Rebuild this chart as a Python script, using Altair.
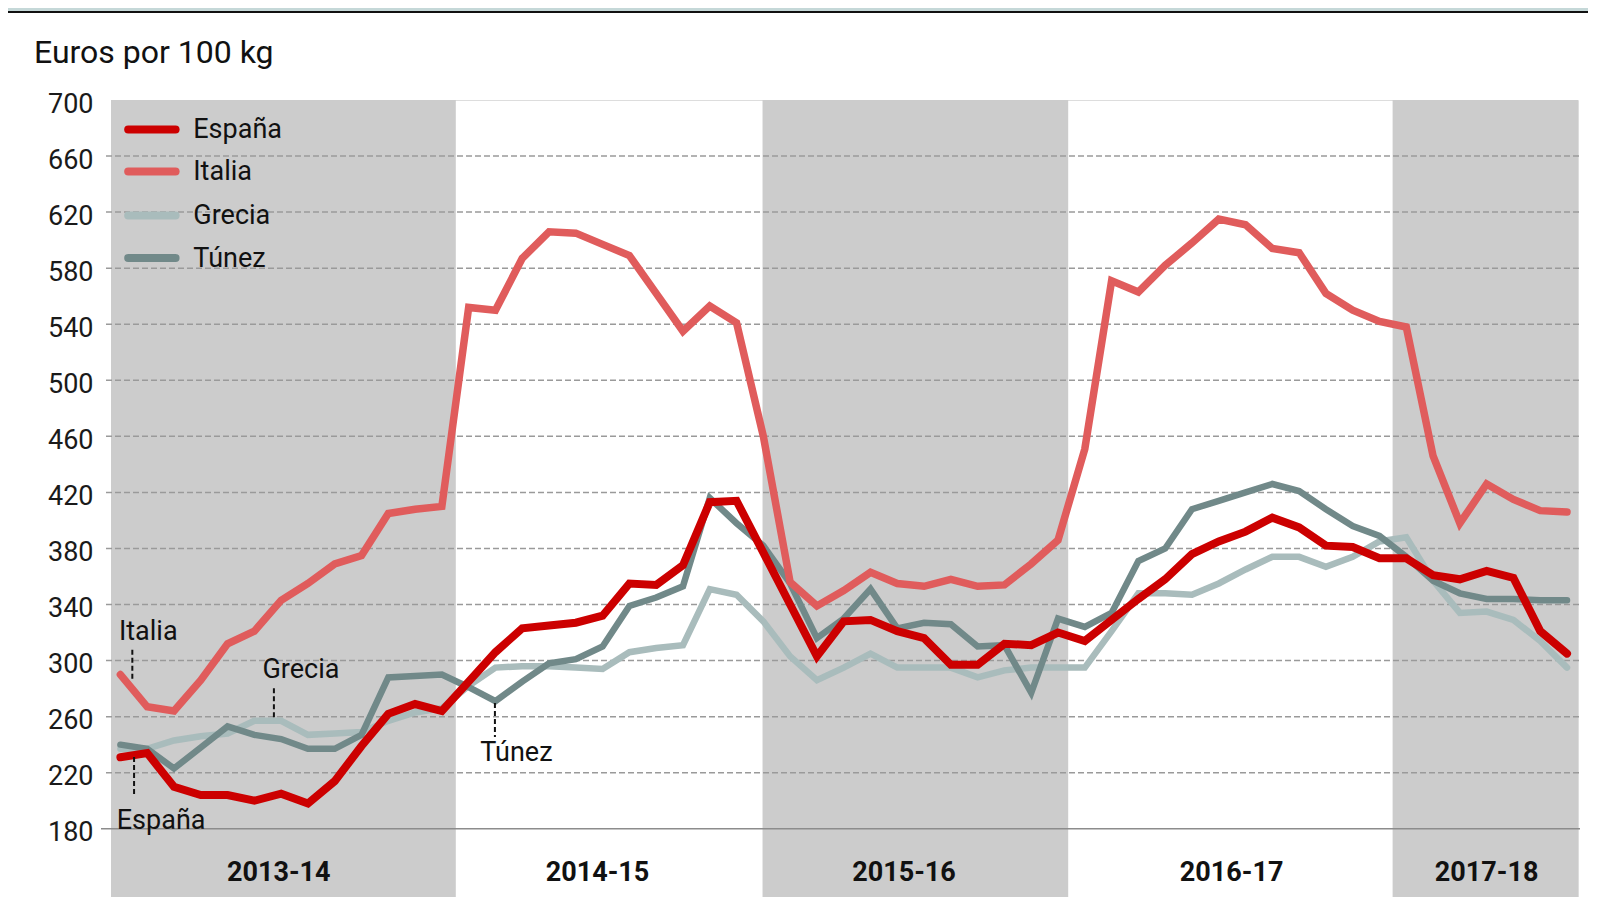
import altair as alt
import pandas as pd

# ---------------- data ----------------
mes = list(range(55))  # regular time steps, 2013-14 .. 2017-18
espana = [231, 234, 210, 204, 204, 200, 205, 198, 214, 239, 262, 269, 264, 285, 306,
          323, 325, 327, 332, 355, 354, 368, 413, 414, 377, 340, 303, 328, 329, 321,
          316, 297, 297, 312, 311, 320, 314, 329, 344, 358, 376, 385, 392, 402, 395,
          382, 381, 373, 373, 361, 358, 364, 359, 321, 305]
italia = [290, 267, 264, 286, 312, 321, 343, 355, 369, 375, 405, 408, 410, 552, 550,
          587, 606, 605, 597, 589, 562, 535, 553, 541, 460, 356, 339, 350, 363, 355,
          353, 358, 353, 354, 369, 386, 451, 571, 563, 582, 598, 615, 611, 594, 591,
          562, 550, 542, 538, 446, 398, 426, 415, 407, 406]
grecia = [237, 237, 243, 246, 248, 257, 257, 247, 248, 249, 257, 263, 266, 282, 295,
          296, 296, 295, 294, 306, 309, 311, 351, 347, 328, 303, 286, 295, 305, 295,
          295, 295, 288, 293, 295, 295, 295, 321, 348, 348, 347, 355, 365, 374, 374,
          367, 374, 385, 388, 357, 334, 335, 329, 314, 295]
tunez = [240, 237, 223, 238, 253, 247, 244, 237, 237, 247, 288, 289, 290, 281, 271,
         285, 298, 301, 310, 339, 345, 353, 416, 398, 382, 355, 316, 330, 351, 323,
         327, 326, 310, 311, 277, 330, 324, 334, 371, 380, 408, 414, 420, 426, 421,
         408, 396, 389, 374, 357, 348, 344, 344, 343, 343]

paises = ["España", "Italia", "Grecia", "Túnez"]
colores = ["#cc0000", "#e05c5c", "#a9bcbc", "#718989"]
grosores = [8, 7.5, 6.5, 6.5]

temporadas = ["2013-14", "2014-15", "2015-16", "2016-17", "2017-18"]
temp_ini = [-0.351, 12.52, 23.97, 35.38, 47.49]
temp_fin = [12.52, 23.97, 35.38, 47.49, 54.41]
temp_sombra = [True, False, True, False, True]
temp_etiqueta = [5.91, 17.81, 29.25, 41.48, 51.0]

ticks_y = list(range(180, 701, 40))
grid_y = list(range(220, 661, 40))

# annotations (text position, leader line)
anot_txt = ["Italia", "Grecia", "España", "Túnez"]
anot_tx = [1.04, 6.74, 1.52, 14.78]
anot_ty = [321.8, 294.4, 186.9, 235.4]
anot_lx = [0.445, 5.73, 0.51, 13.98]
anot_ly1 = [307.8, 280.2, 231.2, 269.7]
anot_ly2 = [286.6, 258.8, 203.3, 245.4]

# legend placement (in data units)
ley_x1, ley_x2, ley_tx = 0.29, 2.06, 2.72
ley_y = [679.0, 649.0, 617.6, 587.3]

W, H = 1467, 797
FONT = "Roboto"
XDOM = [-0.351, 54.41]
YDOM = [131.3, 700]

# ---------------- tables ----------------
valores = {"España": espana, "Italia": italia, "Grecia": grecia, "Túnez": tunez}
df_lines = pd.DataFrame(
    [{"mes": m, "valor": v, "pais": p} for p in paises for m, v in zip(mes, valores[p])]
)
df_temp = pd.DataFrame({"temporada": temporadas, "ini": temp_ini, "fin": temp_fin,
                        "sombra": temp_sombra, "lx": temp_etiqueta,
                        "ly": [149.3] * len(temporadas)})
df_grid = pd.DataFrame({"v": grid_y})
df_base = pd.DataFrame({"v": [180]})
df_anot = pd.DataFrame({"txt": anot_txt, "tx": anot_tx, "ty": anot_ty,
                        "lx": anot_lx, "ly1": anot_ly1, "ly2": anot_ly2})
df_ley = pd.DataFrame({"pais": paises, "x1": [ley_x1] * 4, "x2": [ley_x2] * 4,
                       "tx": [ley_tx] * 4, "y": ley_y})

xs = alt.Scale(domain=XDOM, nice=False, zero=False)
ys = alt.Scale(domain=YDOM, nice=False, zero=False)
yaxis = alt.Axis(values=ticks_y, title=None, grid=False, domain=False, ticks=False,
                 tickSize=0, labelPadding=18, labelFontSize=27, labelFont=FONT,
                 labelColor="#1a1a1a", labelOffset=4)
col_scale = alt.Scale(domain=paises, range=colores)

bands = alt.Chart(df_temp).transform_filter("datum.sombra").mark_rect(color="#cccccc").encode(
    x=alt.X("ini:Q", scale=xs, axis=None), x2="fin:Q",
    y=alt.value(0), y2=alt.value(H))

grid = alt.Chart(df_grid).mark_rule(color="#9a9a9a", strokeWidth=1.5, strokeDash=[6, 3]).encode(
    y=alt.Y("v:Q", scale=ys, axis=yaxis), x=alt.value(-5), x2=alt.value(W + 2))

base = alt.Chart(df_base).mark_rule(color="#8c8c8c", strokeWidth=1.5).encode(
    y=alt.Y("v:Q", scale=ys, axis=yaxis), x=alt.value(-10), x2=alt.value(W + 2))

season_lbl = alt.Chart(df_temp).mark_text(font=FONT, fontSize=27, fontWeight="bold",
                                          color="#111111", baseline="middle", dy=1).encode(
    x=alt.X("lx:Q", scale=xs, axis=None), y=alt.Y("ly:Q", scale=ys, axis=yaxis),
    text="temporada:N")

order = ["Grecia", "Túnez", "Italia", "España"]
line_layers = []
for p in order:
    k = paises.index(p)
    line_layers.append(
        alt.Chart(df_lines).transform_filter(alt.datum.pais == p)
        .mark_line(color=colores[k], strokeWidth=grosores[k], strokeCap="round",
                   strokeJoin="miter")
        .encode(x=alt.X("mes:Q", scale=xs, axis=None),
                y=alt.Y("valor:Q", scale=ys, axis=yaxis))
    )

anot_rule = alt.Chart(df_anot).mark_rule(color="#111111", strokeWidth=2, strokeDash=[5, 3]).encode(
    x=alt.X("lx:Q", scale=xs, axis=None), y=alt.Y("ly1:Q", scale=ys, axis=yaxis), y2="ly2:Q")
anot_text = alt.Chart(df_anot).mark_text(font=FONT, fontSize=27, color="#111111",
                                         baseline="middle", dy=2).encode(
    x=alt.X("tx:Q", scale=xs, axis=None), y=alt.Y("ty:Q", scale=ys, axis=yaxis), text="txt:N")

ley_rule = alt.Chart(df_ley).mark_rule(strokeWidth=8, strokeCap="round").encode(
    x=alt.X("x1:Q", scale=xs, axis=None), x2="x2:Q",
    y=alt.Y("y:Q", scale=ys, axis=yaxis),
    color=alt.Color("pais:N", scale=col_scale, legend=None))
ley_text = alt.Chart(df_ley).mark_text(font=FONT, fontSize=27, color="#111111", align="left",
                                       baseline="middle", dy=1).encode(
    x=alt.X("tx:Q", scale=xs, axis=None), y=alt.Y("y:Q", scale=ys, axis=yaxis), text="pais:N")

df_title = pd.DataFrame({"t": ["Euros por 100 kg"]})
title = alt.Chart(df_title).mark_text(font=FONT, fontSize=32, color="#111111", align="left",
                                      baseline="middle").encode(
    text="t:N", x=alt.value(-77), y=alt.value(-47))

topbar = alt.Chart(df_title).mark_rect(color="#c5d8d8").encode(
    x=alt.value(-103), x2=alt.value(W + 10), y=alt.value(-92), y2=alt.value(-89))
topline = alt.Chart(df_title).mark_rule(color="#111111", strokeWidth=2).encode(
    x=alt.value(-103), x2=alt.value(W + 10), y=alt.value(-88))

chart = alt.layer(
    bands, grid, base, *line_layers, season_lbl, anot_rule, anot_text,
    ley_rule, ley_text, title, topbar, topline
).properties(
    width=W, height=H,
    padding={"left": 103, "top": 92, "right": 10, "bottom": 0},
    autosize=alt.AutoSizeParams(type="none"),
).configure_view(stroke=None).configure(font=FONT, background="white")

chart.save("out.html", embed_options={"renderer": "svg", "actions": False})
